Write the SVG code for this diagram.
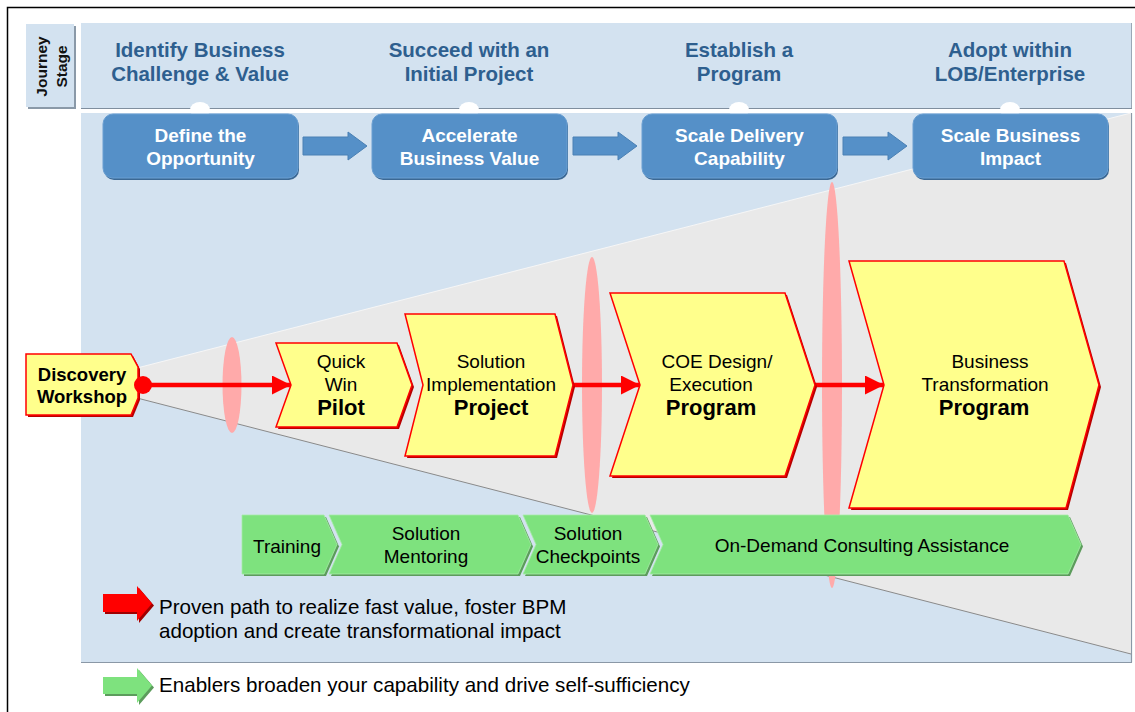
<svg xmlns="http://www.w3.org/2000/svg" width="1135" height="712" viewBox="0 0 1135 712">
<defs>
<style>
text{font-family:"Liberation Sans",Arial,Helvetica,sans-serif;}
.hdr{font-size:20.5px;font-weight:bold;fill:#2e5f8f;text-anchor:middle}
.box{font-size:19px;font-weight:bold;fill:#ffffff;text-anchor:middle}
.step{fill:#5590c8;stroke:#6a9fd2;stroke-width:1}
.stepsh{fill:#3b6894}
.chev{fill:#ffff8c;stroke:#ff0000;stroke-width:1.5;stroke-linejoin:miter}
.chevsh{fill:#b80000}
.t{font-size:19px;fill:#000000;text-anchor:middle}
.tb{font-size:22px;font-weight:bold;fill:#000000;text-anchor:middle}
.dw{font-size:18.5px;font-weight:bold;fill:#000000;text-anchor:middle}
.grn{fill:#7ee27e;stroke:#a6eca6;stroke-width:0.8}
.grnsh{fill:#5c9c5c}
.lens{fill:#ffaaaa}
.lg{font-size:20.6px;fill:#000000}
.barrow{fill:#5590c8;stroke:#4a80b4;stroke-width:1}
.rline{stroke:#ff0000;stroke-width:4.5;fill:none}
</style>
<marker id="rh" viewBox="0 0 19 19" markerWidth="19" markerHeight="19" refX="19" refY="9.5" markerUnits="userSpaceOnUse" orient="auto">
<path d="M0,0 L19,9.5 L0,19 Z" fill="#ff0000"/>
</marker>
</defs>

<rect x="0" y="0" width="1135" height="712" fill="#ffffff"/>
<path d="M7.5,712 L7.5,7.5 L1135,7.5" fill="none" stroke="#000000" stroke-width="1.5"/>

<g id="journey-stage">
<rect x="28" y="26" width="48" height="83" fill="#8a99a8"/>
<rect x="26" y="24" width="48" height="83" fill="#d3e2f0"/>
<text transform="translate(47,66.5) rotate(-90)" style="font-size:15.5px;font-weight:bold;fill:#111;text-anchor:middle">Journey</text>
<text transform="translate(67,66.5) rotate(-90)" style="font-size:15.5px;font-weight:bold;fill:#111;text-anchor:middle">Stage</text>
</g>

<g id="header-band">
<rect x="81" y="23" width="1051" height="85" fill="#d3e2f0"/>
<line x1="81" y1="108.5" x2="1132" y2="108.5" stroke="#7f8e9e" stroke-width="1.2"/>
<line x1="1131.5" y1="23" x2="1131.5" y2="108" stroke="#9aa8b6" stroke-width="1"/>
<text class="hdr" x="200" y="57">Identify Business</text>
<text class="hdr" x="200" y="81">Challenge &amp; Value</text>
<text class="hdr" x="469" y="57">Succeed with an</text>
<text class="hdr" x="469" y="81">Initial Project</text>
<text class="hdr" x="739" y="57">Establish a</text>
<text class="hdr" x="739" y="81">Program</text>
<text class="hdr" x="1010" y="57">Adopt within</text>
<text class="hdr" x="1010" y="81">LOB/Enterprise</text>
</g>

<g id="panel">
<rect x="81" y="113" width="1050" height="549" fill="#d3e2f0"/>
<line x1="1131.5" y1="113" x2="1131.5" y2="662.5" stroke="#8a98a6" stroke-width="1.2"/>
<line x1="81" y1="662.5" x2="1132" y2="662.5" stroke="#8a98a6" stroke-width="1.2"/>
<polygon points="137,368 1131,113 1131,654 137,398" fill="#e9e9e9"/>
<line x1="137" y1="368" x2="1131" y2="113" stroke="#f6f6f6" stroke-width="1"/>
<line x1="137" y1="398" x2="1131" y2="654" stroke="#8a8a8a" stroke-width="1"/>
</g>

<g id="stage-markers">
<ellipse cx="200" cy="110" rx="10" ry="8" fill="#ffffff"/>
<ellipse cx="469" cy="110" rx="10" ry="8" fill="#ffffff"/>
<ellipse cx="739" cy="110" rx="10" ry="8" fill="#ffffff"/>
<ellipse cx="1010" cy="110" rx="10" ry="8" fill="#ffffff"/>
</g>

<g id="step-define">
<rect class="stepsh" x="104" y="116" width="195" height="64" rx="10"/>
<rect class="step" x="103" y="114" width="195" height="64" rx="10"/>
<text class="box" x="200.5" y="142">Define the</text>
<text class="box" x="200.5" y="165">Opportunity</text>
</g>
<g id="step-accelerate">
<rect class="stepsh" x="373" y="116" width="195" height="64" rx="10"/>
<rect class="step" x="372" y="114" width="195" height="64" rx="10"/>
<text class="box" x="469.5" y="142">Accelerate</text>
<text class="box" x="469.5" y="165">Business Value</text>
</g>
<g id="step-scale-delivery">
<rect class="stepsh" x="643" y="116" width="195" height="64" rx="10"/>
<rect class="step" x="642" y="114" width="195" height="64" rx="10"/>
<text class="box" x="739.5" y="142">Scale Delivery</text>
<text class="box" x="739.5" y="165">Capability</text>
</g>
<g id="step-scale-business">
<rect class="stepsh" x="914" y="116" width="195" height="64" rx="10"/>
<rect class="step" x="913" y="114" width="195" height="64" rx="10"/>
<text class="box" x="1010.5" y="142">Scale Business</text>
<text class="box" x="1010.5" y="165">Impact</text>
</g>

<g id="gates">
<ellipse class="lens" cx="232" cy="385" rx="9.5" ry="48"/>
<ellipse class="lens" cx="592" cy="385" rx="10" ry="128"/>
<ellipse class="lens" cx="832" cy="385" rx="10" ry="203"/>
</g>

<g id="connectors">
<polygon class="barrow" points="303,137 348,137 348,132 367,146 348,160 348,155 303,155"/>
<polygon class="barrow" points="573,137 618,137 618,132 637,146 618,160 618,155 573,155"/>
<polygon class="barrow" points="843,137 888,137 888,132 907,146 888,160 888,155 843,155"/>
<line class="rline" x1="150" y1="385" x2="291" y2="385" marker-end="url(#rh)"/>
<line class="rline" x1="573" y1="385" x2="640" y2="385" marker-end="url(#rh)"/>
<line class="rline" x1="815" y1="385" x2="884" y2="385" marker-end="url(#rh)"/>
</g>

<g id="discovery-workshop">
<polygon class="chevsh" points="28,356 133,356 140,369 140,400 133,417 28,417"/>
<polygon class="chev" points="26,354 131,354 138,367 138,398 131,415 26,415"/>
<text class="dw" x="82" y="381">Discovery</text>
<text class="dw" x="82" y="403">Workshop</text>
</g>
<circle cx="143" cy="385" r="9" fill="#ff0000"/>

<g id="quick-win-pilot">
<polygon class="chevsh" points="278,345 399,345 414,387 399,429 278,429 293,387"/>
<polygon class="chev" points="276,343 397,343 412,385 397,427 276,427 291,385"/>
<text class="t" x="341" y="368">Quick</text>
<text class="t" x="341" y="391">Win</text>
<text class="tb" x="341" y="415">Pilot</text>
</g>

<g id="solution-implementation-project">
<polygon class="chevsh" points="407,316 557,316 575,387 557,458 407,458 425,387"/>
<polygon class="chev" points="405,314 555,314 573,385 555,456 405,456 423,385"/>
<text class="t" x="491" y="368">Solution</text>
<text class="t" x="491" y="391">Implementation</text>
<text class="tb" x="491" y="415">Project</text>
</g>

<g id="coe-program">
<polygon class="chevsh" points="612,295 787,295 817,387 787,478 612,478 642,387"/>
<polygon class="chev" points="610,293 785,293 815,385 785,476 610,476 640,385"/>
<text class="t" x="717" y="368">COE Design/</text>
<text class="t" x="711" y="391">Execution</text>
<text class="tb" x="711" y="415">Program</text>
</g>

<g id="business-transformation-program">
<polygon class="chevsh" points="851,263 1066,263 1101,387 1068,510 851,510 886,387"/>
<polygon class="chev" points="849,261 1064,261 1099,385 1066,508 849,508 884,385"/>
<text class="t" x="990" y="368">Business</text>
<text class="t" x="985" y="391">Transformation</text>
<text class="tb" x="984" y="415">Program</text>
</g>

<g id="enabler-training">
<polygon class="grnsh" points="244,517 326,517 339,546.5 326,576 244,576"/>
<polygon class="grn" points="242,515 324,515 337,544.5 324,574 242,574"/>
<text class="t" x="287" y="553">Training</text>
</g>
<g id="enabler-mentoring">
<polygon class="grnsh" points="331,517 520,517 533,546.5 520,576 331,576 344,546.5"/>
<polygon class="grn" points="329,515 518,515 531,544.5 518,574 329,574 342,544.5"/>
<text class="t" x="426" y="540">Solution</text>
<text class="t" x="426" y="563">Mentoring</text>
</g>
<g id="enabler-checkpoints">
<polygon class="grnsh" points="525,517 647,517 660,546.5 647,576 525,576 538,546.5"/>
<polygon class="grn" points="523,515 645,515 658,544.5 645,574 523,574 536,544.5"/>
<text class="t" x="588" y="540">Solution</text>
<text class="t" x="588" y="563">Checkpoints</text>
</g>
<g id="enabler-consulting">
<polygon class="grnsh" points="652,517 1070,517 1083,546.5 1070,576 652,576 665,546.5"/>
<polygon class="grn" points="650,515 1068,515 1081,544.5 1068,574 650,574 663,544.5"/>
<text class="t" x="862" y="552">On-Demand Consulting Assistance</text>
</g>

<g id="legend-red">
<polygon points="105,596 139,596 139,588 154,605.5 139,623 139,614 105,614" fill="#a00000"/>
<polygon points="103,594 137,594 137,586 152,603.5 137,621 137,612 103,612" fill="#ff0000"/>
<text class="lg" x="159" y="614">Proven path to realize fast value, foster BPM</text>
<text class="lg" x="159" y="638">adoption and create transformational impact</text>
</g>
<g id="legend-green">
<polygon points="105,679 139,679 139,670 154,687.5 139,705 139,696 105,696" fill="#5c9c5c"/>
<polygon points="103,677 137,677 137,668 152,685.5 137,703 137,694 103,694" fill="#7ee27e"/>
<text class="lg" x="159" y="692">Enablers broaden your capability and drive self-sufficiency</text>
</g>
</svg>
